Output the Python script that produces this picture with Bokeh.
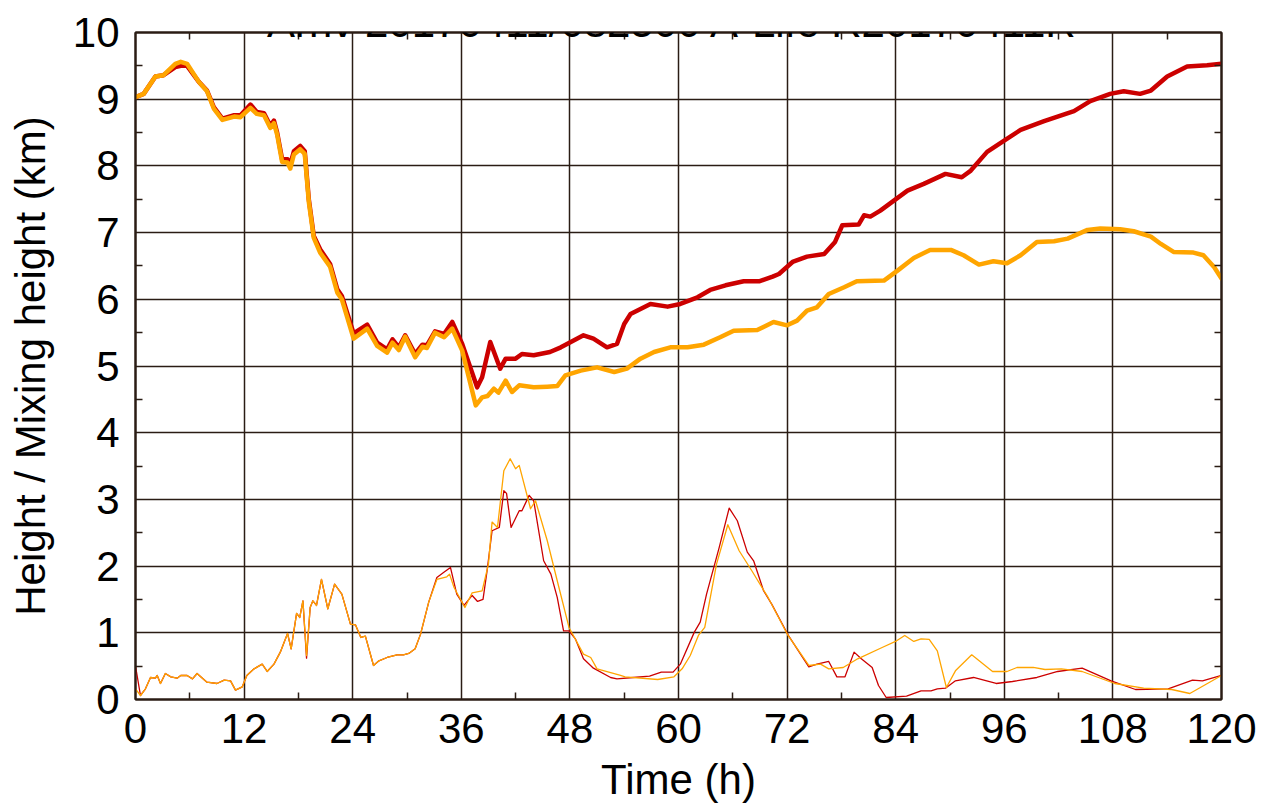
from bokeh.plotting import figure
from bokeh.models import FixedTicker, LinearAxis, Label, Range1d
from bokeh.embed import file_html
from bokeh.resources import INLINE

TITLE = "Arriv 20170411/082500 A-Life R20170411R"
X_LABEL = "Time (h)"
Y_LABEL = "Height / Mixing height (km)"
X_TICKS = [0, 12, 24, 36, 48, 60, 72, 84, 96, 108, 120]
Y_TICKS = [0, 1, 2, 3, 4, 5, 6, 7, 8, 9, 10]
X_MINOR = [6, 18, 30, 42, 54, 66, 78, 90, 102, 114]
Y_MINOR = [0.5, 1.5, 2.5, 3.5, 4.5, 5.5, 6.5, 7.5, 8.5, 9.5]

# Height (thick red)
height_red_t = [0, 0.9, 2.2, 3.1, 4.4, 5.0, 5.7, 7.0, 7.9, 8.65, 9.6, 10.9, 11.6, 12.7, 13.4, 14.2,
                14.9, 15.3, 15.65, 16.2, 16.8, 17.1, 17.5, 18.2, 18.7, 19.15, 19.7, 20.4, 21.5, 22.3,
                22.8, 24.1, 25.6, 26.7, 27.8, 28.4, 29.1, 29.8, 30.9, 31.7, 32.2, 33.1, 34.1, 35.0,
                36.1, 37.75, 38.3, 39.2, 40.3, 40.9, 42.0, 42.7, 44.0, 45.8, 47.0, 48.1, 49.5, 50.6,
                52.1, 53.2, 54.0, 54.7, 56.9, 58.8, 60.2, 62.1, 63.5, 65.2, 67.2, 68.9, 70.4, 71.1,
                72.6, 74.2, 76.1, 77.3, 78.1, 79.9, 80.5, 81.2, 82.3, 83.8, 85.3, 87.1, 89.5, 91.3,
                92.3, 94.1, 95.9, 97.8, 100.4, 103.7, 105.5, 107.7, 109.2, 111.0, 112.2, 114.0,
                116.2, 118.4, 120]
height_red_v = [9.03, 9.08, 9.34, 9.36, 9.48, 9.5, 9.5, 9.26, 9.13, 8.88, 8.71, 8.76, 8.76, 8.92, 8.81, 8.79,
                8.6, 8.68, 8.5, 8.1, 8.1, 8.02, 8.22, 8.3, 8.22, 7.5, 6.95, 6.75, 6.53, 6.15,
                6.05, 5.49, 5.62, 5.35, 5.25, 5.4, 5.28, 5.46, 5.18, 5.32, 5.31, 5.52, 5.48, 5.66,
                5.33, 4.68, 4.83, 5.36, 4.96, 5.11, 5.11, 5.18, 5.16, 5.21, 5.28, 5.36, 5.46, 5.41,
                5.28, 5.33, 5.63, 5.78, 5.93, 5.89, 5.93, 6.03, 6.14, 6.21, 6.27, 6.27, 6.34, 6.38,
                6.56, 6.64, 6.68, 6.86, 7.11, 7.12, 7.26, 7.24, 7.33, 7.48, 7.63, 7.73, 7.88, 7.83,
                7.93, 8.21, 8.37, 8.54, 8.67, 8.82, 8.97, 9.08, 9.12, 9.08, 9.13, 9.34,
                9.49, 9.51, 9.53]

# Height (thick orange)
height_org_t = [0, 0.9, 2.2, 3.1, 4.4, 5.0, 5.7, 7.0, 7.9, 8.65, 9.6, 10.9, 11.6, 12.7, 13.4, 14.2,
                14.9, 15.3, 15.65, 16.2, 16.8, 17.1, 17.5, 18.2, 18.7, 19.15, 19.7, 20.4, 21.5, 22.3,
                22.8, 24.1, 25.6, 26.7, 27.8, 28.4, 29.1, 29.8, 30.9, 31.7, 32.2, 33.1, 34.1, 35.0,
                36.1, 37.6, 38.3, 38.9, 39.6, 40.1, 40.9, 41.6, 42.4, 44.0, 45.5, 46.6, 47.5, 49.2,
                51.0, 52.9, 54.3, 55.8, 57.3, 59.1, 61.0, 62.8, 64.6, 66.1, 68.7, 70.5, 72.0, 73.1,
                74.2, 75.3, 76.6, 78.3, 79.7, 82.7, 84.2, 86.0, 87.8, 90.1, 91.5, 93.2, 94.8, 96.3,
                97.8, 99.6, 101.5, 103.0, 105.2, 106.6, 108.8, 110.3, 112.2, 113.3, 114.7, 116.9,
                118.0, 119.2, 120]
height_org_v = [9.03, 9.08, 9.34, 9.36, 9.53, 9.56, 9.53, 9.26, 9.12, 8.86, 8.69, 8.74, 8.73, 8.87, 8.78, 8.76,
                8.57, 8.64, 8.47, 8.06, 8.05, 7.96, 8.17, 8.25, 8.18, 7.46, 6.92, 6.7, 6.49, 6.1,
                6.0, 5.41, 5.56, 5.3, 5.2, 5.35, 5.24, 5.44, 5.13, 5.29, 5.27, 5.5, 5.43, 5.56,
                5.23, 4.41, 4.53, 4.55, 4.66, 4.6, 4.78, 4.61, 4.71, 4.68, 4.69, 4.7, 4.86, 4.93,
                4.98, 4.91, 4.96, 5.11, 5.21, 5.28, 5.28, 5.32, 5.43, 5.53, 5.54, 5.66, 5.61, 5.68,
                5.83, 5.88, 6.08, 6.18, 6.27, 6.28, 6.43, 6.62, 6.74, 6.74, 6.66, 6.52, 6.57, 6.54,
                6.66, 6.86, 6.87, 6.91, 7.04, 7.06, 7.05, 7.02, 6.94, 6.83, 6.71, 6.70,
                6.66, 6.48, 6.31]

# Mixing height (thin red)
mix_red_t = [0, 0.55, 1.1, 1.66, 2.2, 2.4, 2.76, 3.3, 3.9, 4.6, 5.0, 5.7, 6.3, 6.8, 7.9, 9.0, 9.8, 10.5,
             11.05, 11.8, 12.3, 13.1, 14.0, 14.55, 15.3, 16.0, 16.8, 17.2, 17.8, 18.15, 18.5, 18.9,
             19.3, 19.6, 20.0, 20.55, 21.25, 22.0, 22.8, 23.75, 24.3, 24.9, 25.4, 26.3, 26.9, 27.8,
             28.9, 29.6, 30.2, 30.9, 31.5, 32.4, 33.3, 34.0, 34.8, 35.5, 36.3, 37.2, 37.8, 38.4,
             38.85, 39.4, 40.2, 40.7, 41.0, 41.5, 42.4, 42.7, 43.5, 44.0, 45.1, 45.9, 46.6, 47.3,
             47.9, 48.6, 49.5, 50.6, 52.5, 53.2, 55.0, 56.8, 58.1, 59.4, 60.2, 61.75, 62.4, 63.1,
             64.5, 65.6, 66.5, 67.6, 68.3, 69.4, 70.3, 72.1, 74.4, 75.3, 76.6, 77.5, 78.4, 79.4,
             80.2, 81.4, 82.1, 82.95, 85.2, 86.8, 87.9, 88.6, 89.5, 90.6, 92.6, 95.1, 96.9, 99.6,
             101.9, 104.6, 107.8, 110.5, 114.1, 116.8, 117.9, 120]
mix_red_v = [0.5, 0.06, 0.16, 0.33, 0.32, 0.36, 0.24, 0.39, 0.34, 0.32, 0.36, 0.36, 0.31, 0.39, 0.26, 0.24, 0.29, 0.28,
             0.14, 0.19, 0.36, 0.46, 0.53, 0.42, 0.53, 0.71, 0.99, 0.76, 1.29, 1.23, 1.48, 0.62,
             1.38, 1.48, 1.41, 1.80, 1.36, 1.73, 1.58, 1.13, 1.12, 0.93, 0.95, 0.51, 0.58, 0.63,
             0.67, 0.67, 0.69, 0.76, 0.98, 1.46, 1.83, 1.9, 1.98, 1.58, 1.41, 1.56, 1.47, 1.5,
             1.93, 2.53, 2.58, 3.13, 3.09, 2.58, 2.83, 2.83, 3.06, 2.98, 2.08, 1.88, 1.53, 1.03,
             1.03, 0.91, 0.61, 0.47, 0.33, 0.31, 0.33, 0.35, 0.41, 0.41, 0.53, 1.01, 1.16, 1.58,
             2.28, 2.87, 2.68, 2.21, 2.08, 1.63, 1.43, 0.97, 0.49, 0.53, 0.57, 0.34, 0.34, 0.71,
             0.61, 0.48, 0.21, 0.03, 0.05, 0.13, 0.13, 0.16, 0.17, 0.28, 0.33, 0.24, 0.27, 0.33,
             0.42, 0.47, 0.28, 0.15, 0.16, 0.29, 0.28, 0.36]

# Mixing height (thin orange)
mix_org_t = [0, 0.55, 1.1, 1.66, 2.2, 2.4, 2.76, 3.3, 3.9, 4.6, 5.0, 5.7, 6.3, 6.8, 7.9, 9.0, 9.8, 10.5,
             11.05, 11.8, 12.3, 13.1, 14.0, 14.55, 15.3, 16.0, 16.8, 17.2, 17.8, 18.15, 18.5, 18.9,
             19.3, 19.6, 20.0, 20.55, 21.25, 22.0, 22.8, 23.75, 24.3, 24.9, 25.4, 26.3, 26.9, 27.8,
             28.9, 29.6, 30.2, 30.9, 31.5, 32.4, 33.3, 34.4, 34.7, 35.2, 36.4, 37.2, 38.3, 39.0,
             39.4, 40.0, 40.7, 41.4, 42.0, 42.4, 43.65, 44.2, 45.5, 46.6, 47.9, 49.5, 50.3, 51.0,
             53.6, 54.1, 57.7, 59.5, 60.4, 61.3, 62.2, 62.9, 64.2, 65.45, 66.7, 68.1, 69.9, 72.1,
             74.4, 75.7, 76.6, 78.2, 79.8, 82.5, 84.1, 85.0, 86.0, 86.8, 87.7, 88.6, 89.6, 90.6,
             92.4, 94.7, 96.3, 97.4, 99.2, 100.5, 102.3, 104.6, 108.2, 111.4, 114.5, 116.5, 120]
mix_org_v = [0.16, 0.06, 0.16, 0.33, 0.32, 0.36, 0.24, 0.39, 0.34, 0.32, 0.36, 0.36, 0.31, 0.39, 0.26, 0.24, 0.29, 0.28,
             0.14, 0.19, 0.36, 0.46, 0.53, 0.42, 0.53, 0.71, 0.99, 0.76, 1.29, 1.23, 1.48, 0.66,
             1.38, 1.48, 1.41, 1.80, 1.36, 1.73, 1.58, 1.13, 1.12, 0.93, 0.95, 0.51, 0.58, 0.63,
             0.67, 0.67, 0.69, 0.76, 0.98, 1.46, 1.80, 1.84, 1.88, 1.68, 1.38, 1.6, 1.63, 2.03,
             2.66, 2.58, 3.43, 3.61, 3.46, 3.51, 2.86, 2.98, 2.38, 1.78, 1.08, 0.68, 0.63, 0.46,
             0.36, 0.34, 0.30, 0.34, 0.46, 0.66, 0.96, 1.08, 2.03, 2.62, 2.23, 1.93, 1.53, 0.96,
             0.51, 0.53, 0.46, 0.48, 0.61, 0.78, 0.88, 0.96, 0.87, 0.91, 0.90, 0.73, 0.18, 0.43,
             0.67, 0.42, 0.42, 0.48, 0.48, 0.45, 0.46, 0.42, 0.24, 0.17, 0.15, 0.09, 0.36]

RED = "#cc0000"
ORANGE = "#ffa500"
DARK = "#2a1c14"
FONT = "Liberation Sans"
FS = "42px"

p = figure(width=1277, height=807, output_backend="svg", toolbar_location=None,
           x_range=Range1d(0, 120), y_range=Range1d(0, 10),
           min_border_left=135, min_border_right=56, min_border_top=32, min_border_bottom=108,
           background_fill_color="white", border_fill_color="white")

p.outline_line_color = DARK
p.outline_line_width = 2

xt = FixedTicker(ticks=X_TICKS, minor_ticks=X_MINOR)
yt = FixedTicker(ticks=Y_TICKS, minor_ticks=Y_MINOR)

for ax in p.xaxis:
    ax.ticker = xt
for ax in p.yaxis:
    ax.ticker = yt

for ax in list(p.xaxis) + list(p.yaxis):
    ax.axis_line_color = DARK
    ax.axis_line_width = 2
    ax.major_tick_in = 0
    ax.major_tick_out = 0
    ax.minor_tick_in = 7
    ax.minor_tick_out = 0
    ax.minor_tick_line_color = DARK
    ax.minor_tick_line_width = 1.5
    ax.major_label_text_font = FONT
    ax.major_label_text_font_size = FS
    ax.major_label_text_color = "black"
    ax.axis_label_text_font = FONT
    ax.axis_label_text_font_size = FS
    ax.axis_label_text_font_style = "normal"
    ax.axis_label_text_color = "black"

p.xaxis.axis_label = X_LABEL
p.yaxis.axis_label = Y_LABEL
p.xaxis.major_label_standoff = 14
p.xaxis.axis_label_standoff = 10
p.yaxis.major_label_standoff = 16
p.yaxis.axis_label_standoff = 16

# mirrored axes (top and right): minor ticks only, pointing inward, no labels
for loc, minors in (("right", Y_MINOR), ("above", X_MINOR)):
    a = LinearAxis(ticker=FixedTicker(ticks=[], minor_ticks=minors))
    a.axis_line_color = DARK
    a.axis_line_width = 2
    a.major_tick_in = 0
    a.major_tick_out = 0
    a.minor_tick_in = 7
    a.minor_tick_out = 0
    a.minor_tick_line_color = DARK
    a.minor_tick_line_width = 1.5
    a.major_label_standoff = 0
    p.add_layout(a, loc)

p.xgrid.ticker = xt
p.ygrid.ticker = yt
p.xgrid.grid_line_color = DARK
p.ygrid.grid_line_color = DARK
p.xgrid.grid_line_width = 1.5
p.ygrid.grid_line_width = 1.5

p.line(height_red_t, height_red_v, line_color=RED, line_width=4.5, line_join="round", line_cap="round")
p.line(height_org_t, height_org_v, line_color=ORANGE, line_width=4.5, line_join="round", line_cap="round")
p.line(mix_red_t, mix_red_v, line_color=RED, line_width=1.3, line_join="round")
p.line(mix_org_t, mix_org_v, line_color=ORANGE, line_width=1.3, line_join="round")

title = Label(x=60, y=10, x_units="data", y_units="data", text=TITLE,
              text_align="center", text_baseline="alphabetic", x_offset=-6, y_offset=10,
              text_font=FONT, text_font_size=FS, text_color="black")
p.add_layout(title)

open("out.html", "w").write(file_html(p, INLINE))
